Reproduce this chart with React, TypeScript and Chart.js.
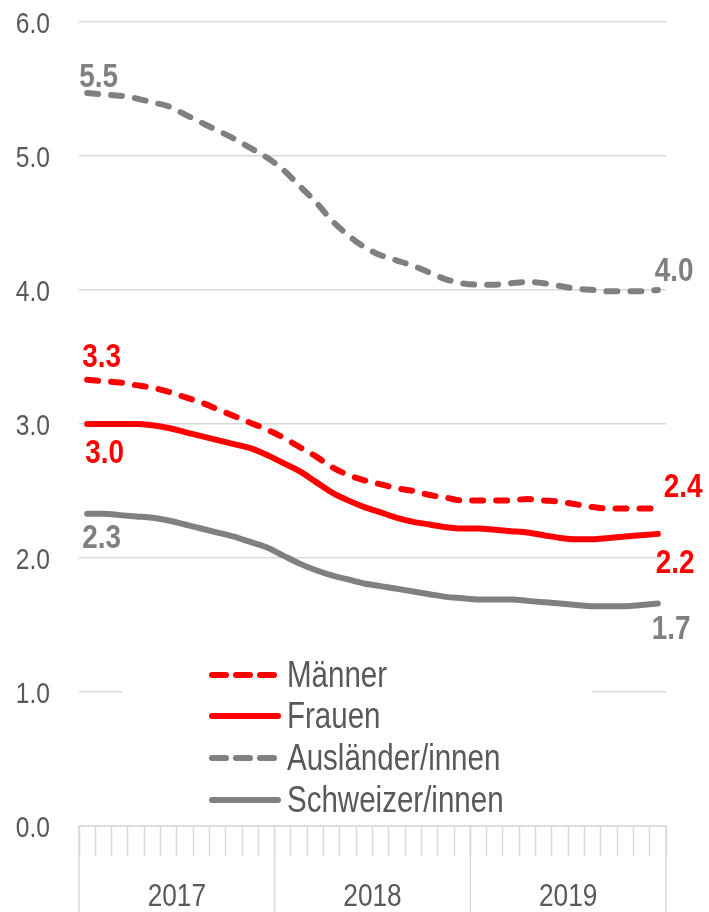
import React, { useEffect, useRef } from "react";
import { Chart, registerables } from "chart.js";

Chart.register(...registerables);

const years = ["2017", "2018", "2019"];
const monthNames = ["Jan", "Feb", "Mär", "Apr", "Mai", "Jun", "Jul", "Aug", "Sep", "Okt", "Nov", "Dez"];
const monthLabels = years.flatMap((y) => monthNames.map((m) => `${m} ${y}`));

const yTickLabels = ["0.0", "1.0", "2.0", "3.0", "4.0", "5.0", "6.0"];

const maenner = [
  3.33, 3.32, 3.31, 3.29, 3.27, 3.24, 3.2, 3.16, 3.11, 3.06, 3.01, 2.96,
  2.9, 2.83, 2.76, 2.68, 2.62, 2.58, 2.55, 2.52, 2.5, 2.47, 2.45, 2.43,
  2.43, 2.43, 2.43, 2.44, 2.43, 2.42, 2.4, 2.38, 2.37, 2.37, 2.37, 2.37,
];
const frauen = [
  3.0, 3.0, 3.0, 3.0, 2.99, 2.97, 2.94, 2.91, 2.88, 2.85, 2.82, 2.77,
  2.71, 2.65, 2.57, 2.49, 2.43, 2.38, 2.34, 2.3, 2.27, 2.25, 2.23, 2.22,
  2.22, 2.21, 2.2, 2.19, 2.17, 2.15, 2.14, 2.14, 2.15, 2.16, 2.17, 2.18,
];
const auslaender = [
  5.47, 5.46, 5.45, 5.43, 5.4, 5.37, 5.31, 5.25, 5.19, 5.13, 5.06, 4.99,
  4.9, 4.78, 4.66, 4.52, 4.41, 4.32, 4.26, 4.22, 4.18, 4.13, 4.08, 4.05,
  4.04, 4.04, 4.05, 4.06, 4.05, 4.03, 4.01, 4.0, 3.99, 3.99, 3.99, 4.0,
];
const schweizer = [
  2.33, 2.33, 2.32, 2.31, 2.3, 2.28, 2.25, 2.22, 2.19, 2.16, 2.12, 2.08,
  2.02, 1.96, 1.91, 1.87, 1.84, 1.81, 1.79, 1.77, 1.75, 1.73, 1.71, 1.7,
  1.69, 1.69, 1.69, 1.68, 1.67, 1.66, 1.65, 1.64, 1.64, 1.64, 1.65, 1.66,
];

const seriesNames = ["Männer", "Frauen", "Ausländer/innen", "Schweizer/innen"];

const RED = "#FF0000";
const GRAY = "#808080";
const TEXT = "#595959";
const GRID = "#D9D9D9";
const FONT = "'Liberation Sans', Arial, sans-serif";
const NARROW = 0.82; // emulate Arial Narrow

function narrowText(ctx: CanvasRenderingContext2D, text: string, x: number, y: number, align: CanvasTextAlign) {
  ctx.save();
  ctx.translate(x, y);
  ctx.scale(NARROW, 1);
  ctx.textAlign = align;
  ctx.textBaseline = "alphabetic";
  ctx.fillText(text, 0, 0);
  ctx.restore();
}

// endpoint label placement (offsets of text left/baseline relative to the point, px)
const endLabels = [
  { ds: 0, first: true, dx: -5, dy: -13 },
  { ds: 0, first: false, dx: 6, dy: -11 },
  { ds: 1, first: true, dx: -2, dy: 39 },
  { ds: 1, first: false, dx: -2, dy: 39 },
  { ds: 2, first: true, dx: -8, dy: -6 },
  { ds: 2, first: false, dx: -3, dy: -9 },
  { ds: 3, first: true, dx: -5, dy: 34 },
  { ds: 3, first: false, dx: -6, dy: 35 },
];

const labelPlugin = {
  id: "endLabels",
  afterDatasetsDraw(chart: any) {
    const ctx = chart.ctx;
    ctx.save();
    ctx.font = `bold 34px ${FONT}`;
    endLabels.forEach((l) => {
      const ds = chart.data.datasets[l.ds];
      const meta = chart.getDatasetMeta(l.ds);
      const idx = l.first ? 0 : ds.data.length - 1;
      const pt = meta.data[idx];
      const v = ds.data[idx] as number;
      ctx.fillStyle = ds.borderColor;
      narrowText(ctx, v.toFixed(1), pt.x + l.dx, pt.y + l.dy, "left");
    });
    ctx.restore();
  },
};

const yLabelPlugin = {
  id: "yLabels",
  afterDraw(chart: any) {
    const ctx = chart.ctx;
    const ys = chart.scales.y;
    ctx.save();
    ctx.fillStyle = TEXT;
    ctx.font = `30px ${FONT}`;
    ys.ticks.forEach((t: any) => {
      const y = ys.getPixelForValue(t.value);
      narrowText(ctx, yTickLabels[Math.round(t.value)], 50, y + 11, "right");
    });
    ctx.restore();
  },
};

const xAxisPlugin = {
  id: "yearAxis",
  afterDraw(chart: any) {
    const ctx = chart.ctx;
    const xs = chart.scales.x;
    const top = chart.chartArea.bottom;
    const bottom = chart.height;
    const n = monthNames.length;
    ctx.save();
    ctx.strokeStyle = GRID;
    ctx.lineWidth = 1.5;
    ctx.fillStyle = TEXT;
    ctx.font = `32px ${FONT}`;
    const half = (xs.getPixelForValue(1) - xs.getPixelForValue(0)) / 2;
    years.forEach((y, i) => {
      const x0 = xs.getPixelForValue(i * n) - half;
      const x1 = xs.getPixelForValue(i * n + n - 1) + half;
      ctx.beginPath();
      ctx.moveTo(x0, top);
      ctx.lineTo(x0, bottom);
      if (i === years.length - 1) {
        ctx.moveTo(x1, top);
        ctx.lineTo(x1, bottom);
      }
      ctx.stroke();
      narrowText(ctx, y, (x0 + x1) / 2, 906, "center");
    });
    ctx.restore();
  },
};

const legendPlugin = {
  id: "boxLegend",
  afterDraw(chart: any) {
    const ctx = chart.ctx;
    ctx.save();
    ctx.fillStyle = "#FFFFFF";
    ctx.fillRect(122, 648, 470, 172);
    const rows = [675, 716, 758, 800];
    chart.data.datasets.forEach((ds: any, i: number) => {
      const y = rows[i];
      ctx.strokeStyle = ds.borderColor;
      ctx.lineWidth = 6;
      ctx.lineCap = "round";
      ctx.setLineDash(ds.borderDash && ds.borderDash.length ? [14, 10] : []);
      ctx.beginPath();
      ctx.moveTo(212, y);
      ctx.lineTo(278, y);
      ctx.stroke();
      ctx.setLineDash([]);
      ctx.fillStyle = TEXT;
      ctx.font = `36px ${FONT}`;
      narrowText(ctx, ds.label, 287, y + 12, "left");
    });
    ctx.restore();
  },
};

export default function App() {
  const ref = useRef<HTMLCanvasElement | null>(null);

  useEffect(() => {
    document.body.style.margin = "0";
    if (!ref.current) return;
    const dash = [11, 13];
    const chart = new Chart(ref.current, {
      type: "line",
      data: {
        labels: monthLabels,
        datasets: [
          { label: seriesNames[0], data: maenner, borderColor: RED, borderDash: dash },
          { label: seriesNames[1], data: frauen, borderColor: RED, borderDash: [] },
          { label: seriesNames[2], data: auslaender, borderColor: GRAY, borderDash: dash },
          { label: seriesNames[3], data: schweizer, borderColor: GRAY, borderDash: [] },
        ].map((d) => ({
          ...d,
          borderWidth: 6,
          borderCapStyle: "round" as const,
          borderJoinStyle: "round" as const,
          pointRadius: 0,
          pointHoverRadius: 0,
          fill: false,
          cubicInterpolationMode: "monotone" as const,
        })),
      },
      options: {
        animation: false,
        responsive: false,
        maintainAspectRatio: false,
        events: [],
        layout: { padding: { top: 22, right: 43, left: 0, bottom: 0 } },
        plugins: {
          legend: { display: false },
          tooltip: { enabled: false },
        },
        scales: {
          x: {
            type: "category",
            offset: true,
            ticks: { display: false },
            grid: {
              offset: true,
              drawOnChartArea: false,
              drawTicks: true,
              tickLength: 30,
              tickColor: GRID,
              tickWidth: 1.5,
              color: GRID,
            },
            border: { display: true, color: GRID, width: 1.5 },
            afterFit: (s: any) => {
              s.height = 86;
            },
          },
          y: {
            min: 0,
            max: 6,
            ticks: { display: false, stepSize: 1 },
            grid: { color: GRID, lineWidth: 1.5, drawTicks: false },
            border: { display: false },
            afterFit: (s: any) => {
              s.width = 79;
            },
          },
        },
      },
      plugins: [labelPlugin, yLabelPlugin, xAxisPlugin, legendPlugin],
    });
    return () => chart.destroy();
  }, []);

  return (
    <div style={{ position: "absolute", left: 0, top: 0, width: 709, height: 912 }}>
      <canvas ref={ref} width={709} height={912} style={{ width: 709, height: 912, display: "block" }} />
    </div>
  );
}
